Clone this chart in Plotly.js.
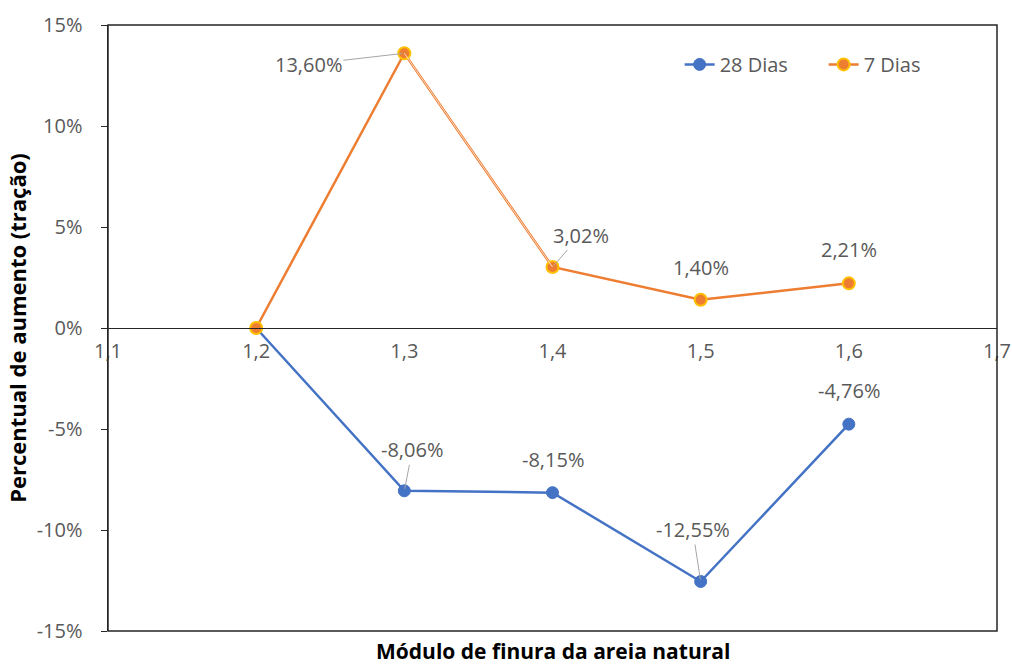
<!DOCTYPE html>
<html>
<head>
<meta charset="utf-8">
<script src="https://cdn.plot.ly/plotly-3.0.1.min.js"></script>
<style>html,body{margin:0;padding:0;background:#fff;}#chart{width:1012px;height:664px;}</style>
</head>
<body>
<div id="chart"></div>
<script>
const modulo = [1.2, 1.3, 1.4, 1.5, 1.6];
const dias28 = [0, -8.06, -8.15, -12.55, -4.76];
const dias7 = [0, 13.60, 3.02, 1.40, 2.21];
const xTicks = [1.1, 1.2, 1.3, 1.4, 1.5, 1.6, 1.7];
const yTicks = [-15, -10, -5, 0, 5, 10, 15];

const fmt = v => v.toFixed(2).replace('.', ',') + '%';
const FONT = 'Open Sans, Noto Sans, sans-serif';
const LBL = '#595959';
const FS = 20;

const traces = [
  {x: modulo, y: dias28, name: '28 Dias', mode: 'lines+markers',
   line: {color: '#4472C4', width: 2.5},
   marker: {color: '#4472C4', size: 12, line: {color: '#4472C4', width: 1}}},
  {x: modulo, y: dias7, name: '7 Dias', mode: 'lines+markers',
   line: {color: '#ED7D31', width: 2.5},
   marker: {color: '#ED7D31', size: 12, line: {color: '#FFC000', width: 2}}},
  {x: modulo.slice(1, 3), y: dias7.slice(1, 3), mode: 'lines', showlegend: false, hoverinfo: 'skip',
   line: {color: 'rgba(255,255,255,0.9)', width: 0.8}}
];

const off7 = [null, {ax: -96, ay: 11, arrow: true}, {ax: 28, ay: -32, arrow: true}, {ys: 32}, {ys: 34}];
const off28 = [null, {ax: 8, ay: -41, arrow: true}, {ys: 33}, {ax: -8, ay: -52, arrow: true}, {ys: 34}];

const annotations = [];
function addLabels(vals, offs) {
  vals.forEach((v, i) => {
    const o = offs[i];
    if (!o) return;
    const a = {x: modulo[i], y: v, xref: 'x', yref: 'y', text: fmt(v),
      font: {family: FONT, size: FS, color: LBL}};
    if (o.arrow) {
      Object.assign(a, {showarrow: true, ax: o.ax, ay: o.ay, arrowhead: 0, arrowwidth: 1,
        arrowcolor: '#A6A6A6', standoff: 2});
    } else {
      Object.assign(a, {showarrow: false, yshift: o.ys});
    }
    annotations.push(a);
  });
}
addLabels(dias7, off7);
addLabels(dias28, off28);

annotations.push({xref: 'paper', yref: 'paper', x: 0.5, y: 0, yanchor: 'middle', yshift: -20, showarrow: false,
  text: '<b>Módulo de finura da areia natural</b>', font: {family: FONT, size: 21, color: '#000'}});

const layout = {
  width: 1012, height: 664,
  margin: {l: 108, r: 15, t: 25, b: 33},
  paper_bgcolor: '#fff', plot_bgcolor: '#fff',
  showlegend: true,
  legend: {orientation: 'h', x: 0.643, y: 0.935, xanchor: 'left', yanchor: 'middle', entrywidth: 99,
    font: {family: FONT, size: FS, color: LBL}, bgcolor: 'rgba(0,0,0,0)'},
  xaxis: {range: [1.1, 1.7], tickmode: 'array', tickvals: xTicks, automargin: false,
    ticktext: xTicks.map(v => v.toFixed(1).replace('.', ',')), anchor: 'free', position: 0.5,
    showgrid: false, zeroline: false, showline: true, linecolor: '#262626', linewidth: 1.2,
    ticks: 'outside', ticklen: 5, tickcolor: 'rgba(0,0,0,0)', tickfont: {family: FONT, size: FS, color: LBL}},
  yaxis: {range: [-15, 15], tickmode: 'array', tickvals: yTicks, ticktext: yTicks.map(v => v + '%'),
    showgrid: false, zeroline: false, ticklabelstandoff: 14, automargin: false,
    showline: true, linecolor: '#262626', linewidth: 1.5, ticks: 'outside', ticklen: 6, tickcolor: '#262626',
    tickfont: {family: FONT, size: FS, color: LBL},
    title: {text: '<b>Percentual de aumento (tração)</b>', font: {family: FONT, size: 22, color: '#000'}, standoff: 4}},
  shapes: [{type: 'rect', xref: 'paper', yref: 'paper', x0: 0, x1: 1, y0: 0, y1: 1,
    line: {color: '#262626', width: 1.5}, fillcolor: 'rgba(0,0,0,0)'}],
  annotations: annotations
};

Plotly.newPlot('chart', traces, layout, {displayModeBar: false, staticPlot: true});
</script>
</body>
</html>
